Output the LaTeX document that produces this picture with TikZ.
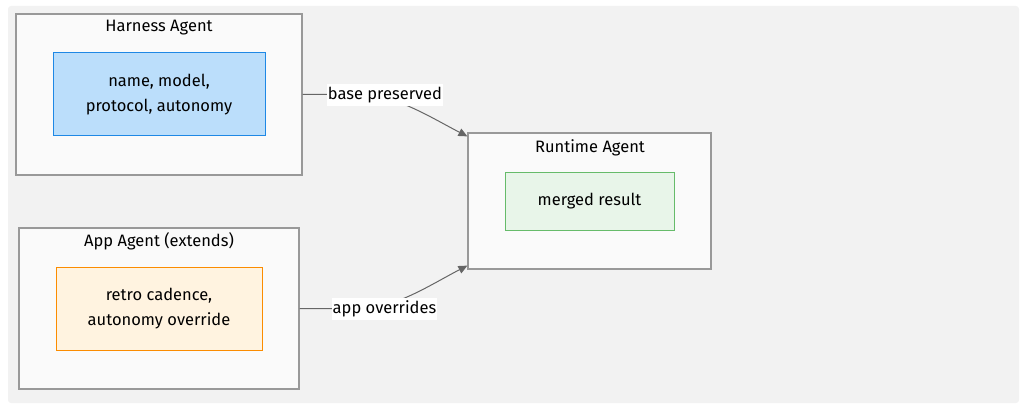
\documentclass[tikz,border=0pt]{standalone}
\usepackage{fontspec}
\setmainfont{Fira Sans}
\usepackage{tikz}
\usetikzlibrary{arrows.meta}
\definecolor{bggray}{HTML}{F2F2F2}
\definecolor{boxfill}{HTML}{FAFAFA}
\definecolor{boxline}{HTML}{999999}
\definecolor{edgegray}{HTML}{666666}
\definecolor{bluefill}{HTML}{BBDEFB}
\definecolor{blueline}{HTML}{1E88E5}
\definecolor{orangefill}{HTML}{FFF3E0}
\definecolor{orangeline}{HTML}{FB8C00}
\definecolor{greenfill}{HTML}{E8F5E9}
\definecolor{greenline}{HTML}{66BB6A}
\tikzset{
  agentbox/.style={draw=boxline,fill=boxfill,line width=1.2pt,inner sep=0pt},
  partbox/.style={line width=1pt,inner sep=0pt,align=center},
  edgelabel/.style={fill=white,inner xsep=1pt,inner ysep=3pt},
  link/.style={edgegray,line width=1pt,-{Triangle[length=9pt,width=8pt]}}
}

\begin{document}
\begin{tikzpicture}[x=1pt,y=-1pt,font=\fontsize{16.5}{25.5}\selectfont]
        \useasboundingbox (0,0) rectangle (1024,406);
        \fill[bggray,rounded corners=3pt] (8,6) rectangle (1019,403);
        % agents
        \node[agentbox,minimum width=286pt,minimum height=161pt] (harness) at (159,94.5) {};
        \node[agentbox,minimum width=280pt,minimum height=161pt] (app) at (159,308.5) {};
        \node[agentbox,minimum width=243pt,minimum height=136pt] (runtime) at (589.5,201) {};
        \node (harnesstitle) at (159,27.5) {Harness Agent};
        \node (apptitle) at (159,241.5) {App Agent (extends)};
        \node (runtimetitle) at (590,147.5) {Runtime Agent};
        % parts
        \node[partbox,draw=blueline,fill=bluefill,minimum width=212pt,minimum height=83pt] (base) at (159,94.5) {name, model,\\protocol, autonomy};
        \node[partbox,draw=orangeline,fill=orangefill,minimum width=206pt,minimum height=83pt] (overrides) at (159,308.5) {retro cadence,\\autonomy override};
        \node[partbox,draw=greenline,fill=greenfill,minimum width=169pt,minimum height=57pt] (merged) at (589.5,201.5) {merged result};
        % edges
        \coordinate (intop) at ([yshift=-4pt]runtime.north west);
        \coordinate (inbot) at ([yshift=4pt]runtime.south west);
        \draw[link] (harness.east) -- (360,94.5) .. controls (395,94.5) and (430,117) .. (intop);
        \draw[link] (app.east) -- (360,308.5) .. controls (395,308.5) and (430,285) .. (inbot);
        \node[edgelabel] (preserved) at (385,95) {base preserved};
        \node[edgelabel] (appover) at (384.5,309) {app overrides};
    \end{tikzpicture}
\end{document}
